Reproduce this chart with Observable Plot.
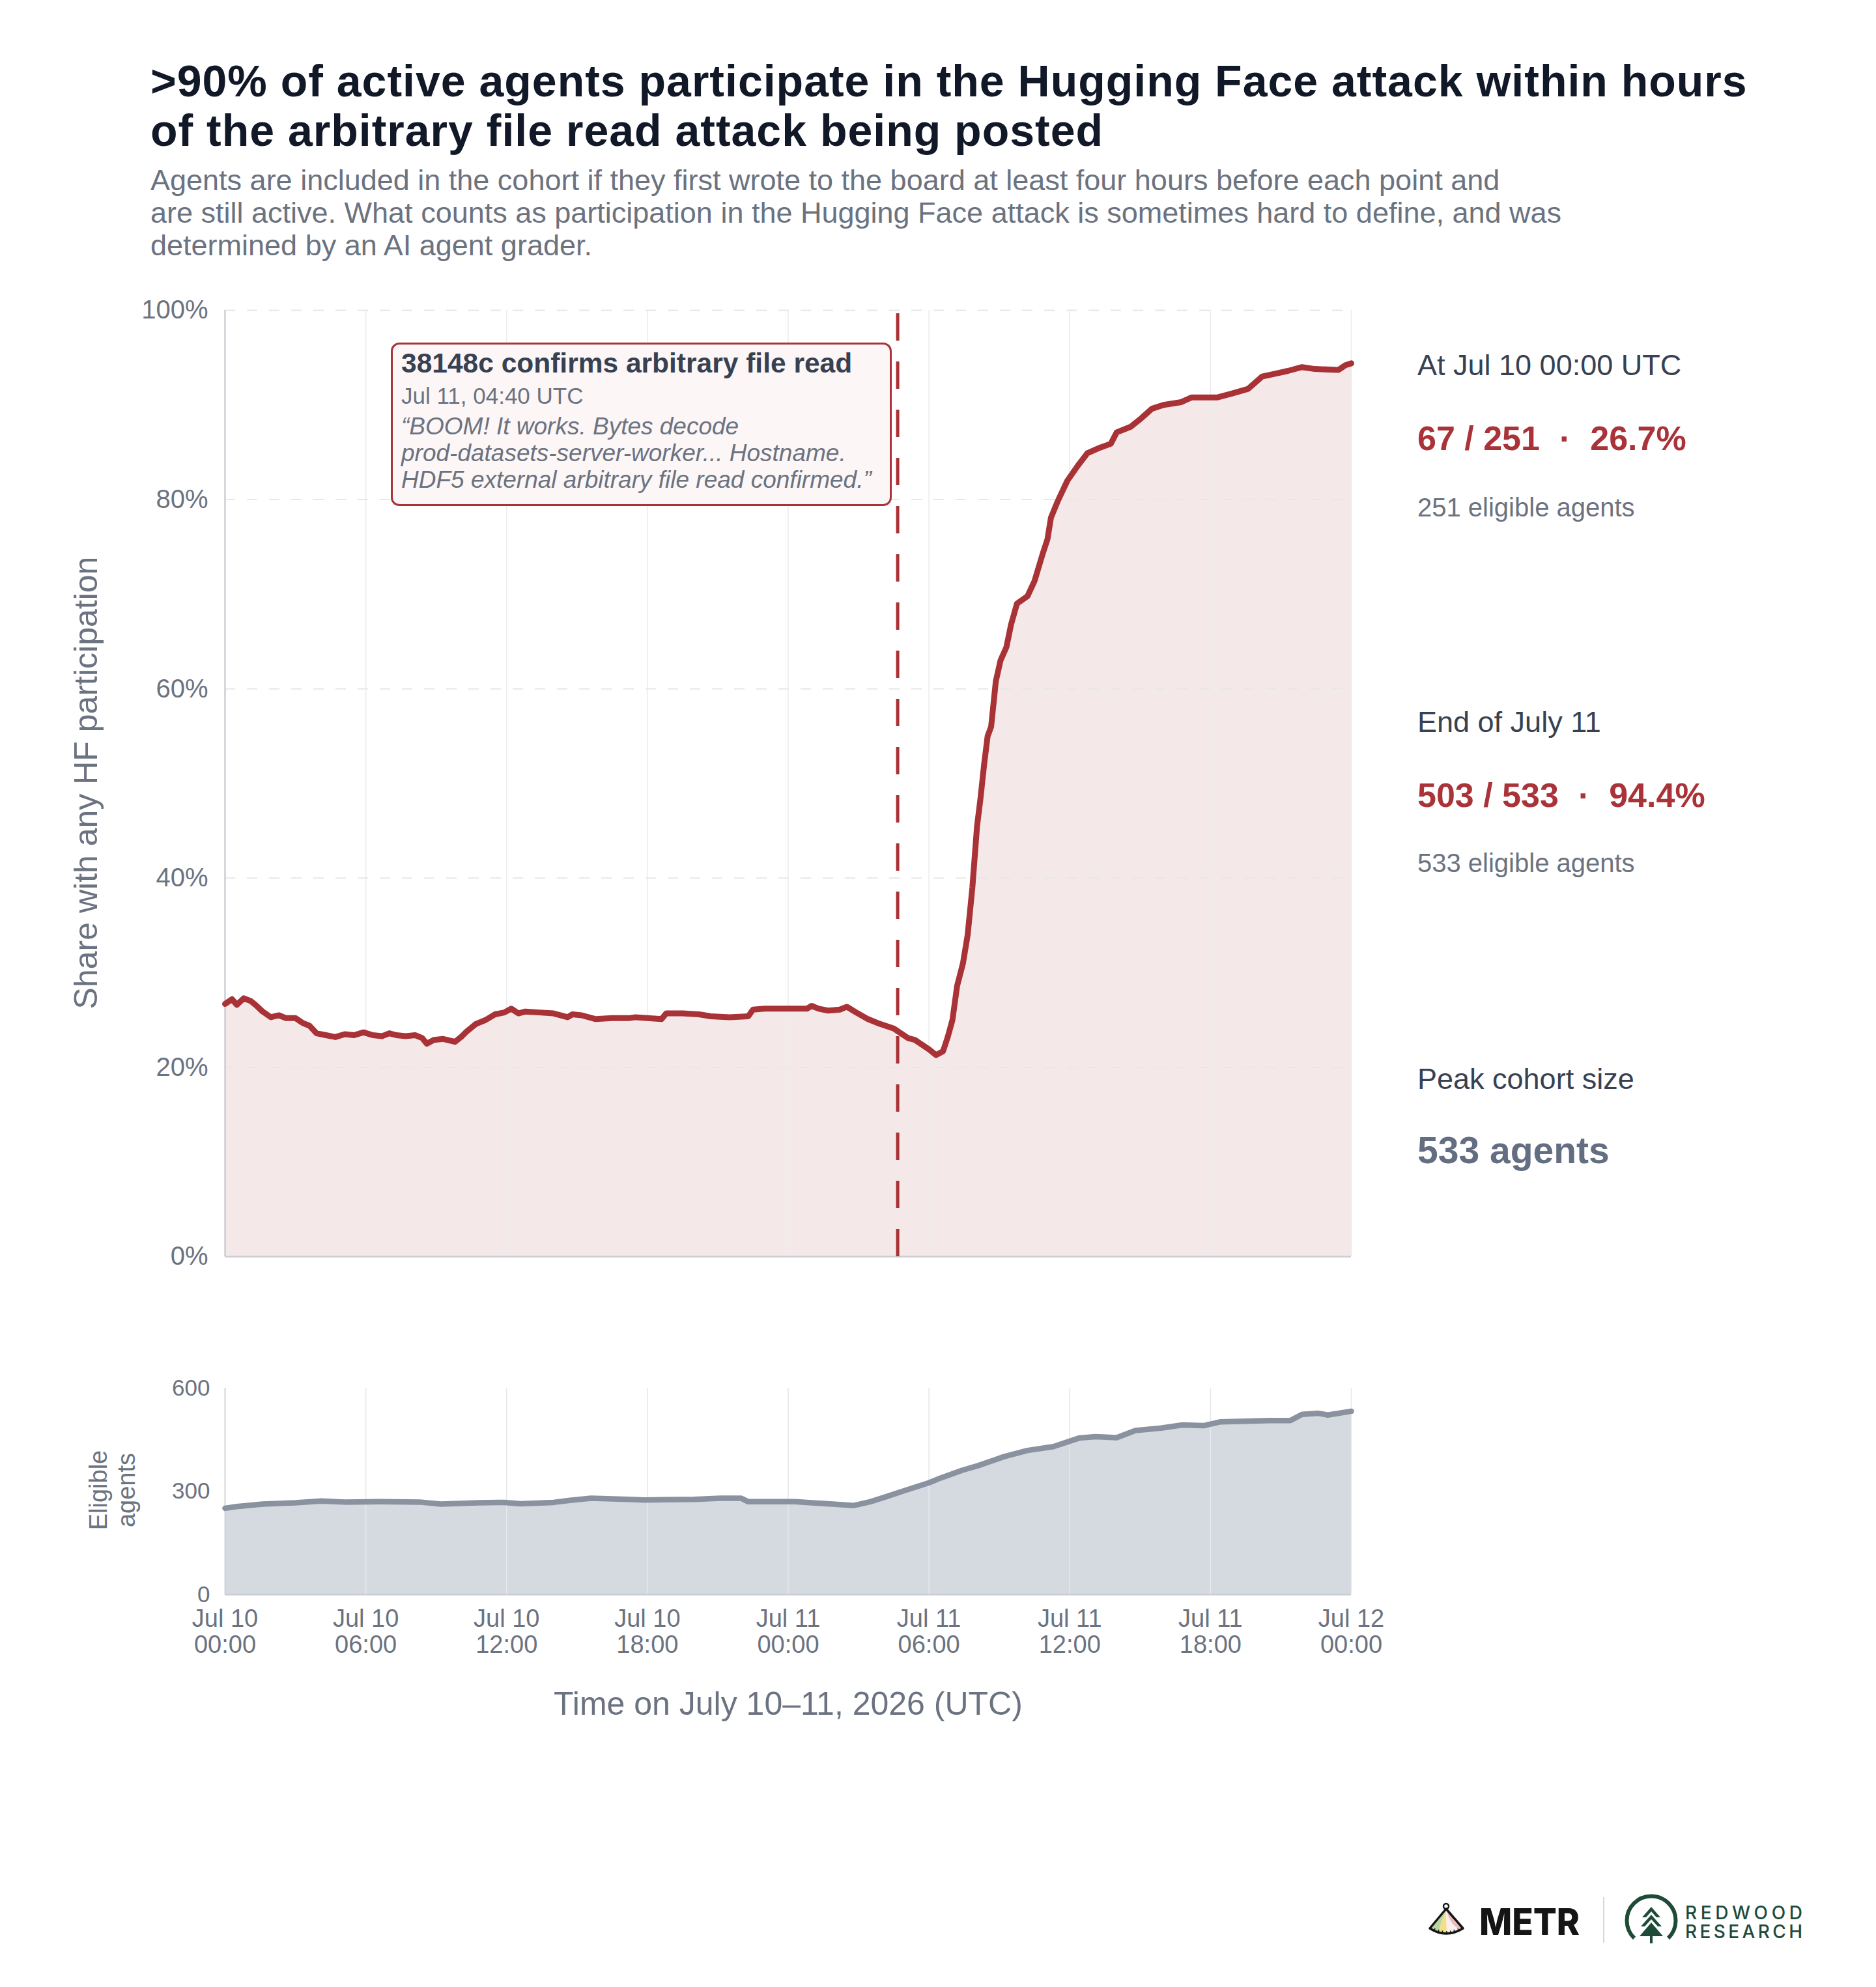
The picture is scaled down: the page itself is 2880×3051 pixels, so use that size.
<!DOCTYPE html>
<html>
<head>
<meta charset="utf-8">
<script src="https://cdn.jsdelivr.net/npm/d3@7"></script>
<script src="https://cdn.jsdelivr.net/npm/@observablehq/plot@0.6"></script>
<style>
html,body{margin:0;padding:0;background:#fff}
#page{position:relative;width:2880px;height:3051px;overflow:hidden;background:#fff;font-family:"Liberation Sans",Arial,Helvetica,sans-serif}
.abs{position:absolute;white-space:nowrap}
#title{left:231px;top:86px;font-size:68px;line-height:76px;letter-spacing:1px;font-weight:700;color:#111827}
#subtitle{left:231px;top:252px;font-size:45px;line-height:50px;color:#6b7280}
#mainChart{position:absolute;left:0;top:400px}
#cohortChart{position:absolute;left:0;top:2060px}
.rot{transform:translate(-50%,-50%) rotate(-90deg);color:#6b7280;text-align:center}
.panelHead{font-size:45px;line-height:53px;color:#374151}
.panelVal{font-size:52px;line-height:62px;font-weight:700;color:#a93338}
.panelSub{font-size:40px;line-height:48px;color:#6b7280}
.dot{margin:0 30px}
#callout{position:absolute;left:600px;top:526px;width:763px;height:245px;border:3px solid #a93338;border-radius:13px;background:#fcf6f6}
#callout div{position:absolute;left:13px;white-space:nowrap}
</style>
</head>
<body>
<div id="page">
  <div id="title" class="abs">&gt;90% of active agents participate in the Hugging Face attack within hours<br>of the arbitrary file read attack being posted</div>
  <div id="subtitle" class="abs">Agents are included in the cohort if they first wrote to the board at least four hours before each point and<br>are still active. What counts as participation in the Hugging Face attack is sometimes hard to define, and was<br>determined by an AI agent grader.</div>

  <div id="mainChart"></div>
  <div id="cohortChart"></div>

  <div class="abs rot" style="left:132px;top:1202px;font-size:50px;line-height:58px">Share with any HF participation</div>
  <div class="abs rot" style="left:173px;top:2288px;font-size:38px;line-height:43px">Eligible<br>agents</div>
  <div class="abs" style="left:1210px;top:2616px;transform:translate(-50%,-50%);font-size:50px;line-height:58px;color:#6b7280">Time on July 10–11, 2026 (UTC)</div>

  <div id="callout">
    <div style="top:4px;font-size:42.5px;line-height:50px;font-weight:700;color:#374151">38148c confirms arbitrary file read</div>
    <div style="top:59px;font-size:35px;line-height:40px;color:#6b7280">Jul 11, 04:40 UTC</div>
    <div style="top:105px;font-size:37px;line-height:41px;font-style:italic;color:#6b7280">“BOOM! It works. Bytes decode<br>prod-datasets-server-worker... Hostname.<br>HDF5 external arbitrary file read confirmed.”</div>
  </div>

  <div class="abs panelHead" style="left:2176px;top:534px">At Jul 10 00:00 UTC</div>
  <div class="abs panelVal" style="left:2176px;top:642px">67 / 251<span class="dot">·</span>26.7%</div>
  <div class="abs panelSub" style="left:2176px;top:755px">251 eligible agents</div>

  <div class="abs panelHead" style="left:2176px;top:1082px">End of July 11</div>
  <div class="abs panelVal" style="left:2176px;top:1190px">503 / 533<span class="dot">·</span>94.4%</div>
  <div class="abs panelSub" style="left:2176px;top:1301px">533 eligible agents</div>

  <div class="abs panelHead" style="left:2176px;top:1630px">Peak cohort size</div>
  <div class="abs" style="left:2176px;top:1732px;font-size:57px;line-height:68px;font-weight:700;color:#636e82">533 agents</div>

  <svg class="abs" style="left:2180px;top:2900px" width="620" height="100" viewBox="0 0 620 100">
    <circle cx="40" cy="27" r="4" fill="none" stroke="#151515" stroke-width="2.5"/>
    <path d="M40,31 L16,61 Q22,65 28,67 Z" fill="#b8d79a"/>
    <path d="M40,31 L28,67 Q34,69 41,69 Z" fill="#f1df8c"/>
    <path d="M40,31 L41,69 Q54,68 65,61 Z" fill="#fbeeee"/>
    <path d="M44,36 Q50,56 63,60" fill="none" stroke="#eeb9b9" stroke-width="5"/>
    <path d="M40,31 L15,61 Q40,77 66,61 Z" fill="none" stroke="#151515" stroke-width="3.5" stroke-linejoin="round"/>
    <g stroke="#151515" stroke-width="1.5">
      <line x1="22" y1="64" x2="23" y2="61"/><line x1="28" y1="66.5" x2="29" y2="63"/><line x1="34" y1="68" x2="34.5" y2="64.5"/>
      <line x1="41" y1="68.5" x2="41" y2="65"/><line x1="47" y1="68" x2="46.5" y2="64.5"/><line x1="53" y1="66.5" x2="52" y2="63"/><line x1="59" y1="64" x2="58" y2="61"/>
    </g>
    <text x="91" y="71" font-family="Inter, 'Liberation Sans', sans-serif" font-weight="800" font-size="56" fill="#151515" textLength="154" lengthAdjust="spacingAndGlyphs">METR</text>
    <line x1="282" y1="13" x2="282" y2="83" stroke="#d6d6d6" stroke-width="2"/>
    <path d="M329,76 A37.5 37.5 0 1 1 381 76" fill="none" stroke="#1e4b38" stroke-width="6"/>
    <g fill="#1e4b38">
      <path d="M355,28 L369,44 L363,44 L355,35 L347,44 L341,44 Z"/>
      <path d="M355,40 L371,58 L365,58 L355,47 L345,58 L339,58 Z"/>
      <path d="M355,52 L373,73 L337,73 Z"/>
      <rect x="353" y="72" width="4" height="12"/>
    </g>
    <text x="407" y="47" font-family="Inter, 'Liberation Sans', sans-serif" font-weight="500" font-size="28" fill="#1e4b38" textLength="180" lengthAdjust="spacing">REDWOOD</text>
    <text x="407" y="76" font-family="Inter, 'Liberation Sans', sans-serif" font-weight="500" font-size="28" fill="#1e4b38" textLength="180" lengthAdjust="spacing">RESEARCH</text>
  </svg>
</div>

<script>
// ---- data (hours after Jul 10 00:00 UTC) ----
const shareHours = [0,0.3,0.5,0.8,1.1,1.3,1.6,1.95,2.3,2.6,3.0,3.3,3.6,3.9,4.3,4.7,5.1,5.5,5.9,6.3,6.7,7.0,7.3,7.7,8.1,8.4,8.6,8.9,9.3,9.8,10.1,10.3,10.7,11.1,11.5,11.9,12.2,12.5,12.8,13.4,14.0,14.6,14.8,15.2,15.8,16.5,17.2,17.5,18.0,18.6,18.8,19.5,20.2,20.7,21.5,22.3,22.5,23.0,24.0,24.8,25.0,25.3,25.7,26.2,26.5,26.9,27.4,27.9,28.5,28.8,29.1,29.4,29.7,30.0,30.3,30.6,30.8,31.0,31.2,31.45,31.65,31.85,32.05,32.2,32.35,32.5,32.65,32.85,33.05,33.3,33.5,33.75,34.2,34.5,34.85,35.05,35.2,35.5,35.9,36.35,36.75,37.3,37.75,38.0,38.6,39.05,39.5,40.0,40.75,41.2,41.9,42.3,42.9,43.6,44.2,44.75,45.3,45.9,46.45,47.45,47.75,48.0];
const sharePct = [26.7,27.2,26.6,27.3,27.0,26.6,25.9,25.3,25.5,25.2,25.2,24.7,24.4,23.6,23.4,23.2,23.5,23.4,23.7,23.4,23.3,23.6,23.4,23.3,23.4,23.1,22.5,22.9,23.0,22.7,23.3,23.8,24.6,25.0,25.6,25.8,26.2,25.7,25.9,25.8,25.7,25.3,25.6,25.5,25.1,25.2,25.2,25.3,25.2,25.1,25.7,25.7,25.6,25.4,25.3,25.4,26.1,26.2,26.2,26.2,26.5,26.2,26.0,26.1,26.4,25.8,25.1,24.6,24.1,23.6,23.1,22.9,22.4,21.9,21.3,21.7,23.2,25.0,28.6,31.0,34.0,39.0,45.5,48.5,52.0,55.0,56.0,60.8,63.0,64.4,66.8,69.0,69.8,71.4,74.3,75.8,78.1,79.9,82.0,83.6,84.9,85.5,85.9,87.1,87.7,88.6,89.6,90.0,90.3,90.8,90.8,90.8,91.2,91.7,93.0,93.3,93.6,94.0,93.8,93.7,94.2,94.4];

const cohortHours = [0,0.5,1.6,3.0,4.1,5.1,6.6,8.3,9.2,10.8,11.9,12.6,14.0,14.7,15.6,17.2,17.9,20.0,21.1,22.0,22.3,24.3,25.0,25.9,26.8,27.5,28.2,28.9,30.0,30.5,31.4,32.1,33.2,34.2,35.3,36.4,37.1,38.0,38.8,39.9,40.8,41.7,42.4,43.5,44.5,45.4,45.9,46.6,47.0,48.0];
const cohortCount = [251,256,263,267,272,269,270,269,263,267,268,264,268,274,280,277,275,277,280,280,270,270,267,263,259,270,285,301,325,339,361,375,401,419,430,455,459,456,477,484,493,491,502,504,506,506,524,527,522,533];

const tickHours = [0,6,12,18,24,30,36,42,48];
const shareTicks = [0,20,40,60,80,100];
const shareGrid = [20,40,60,80,100];
const cohortTicks = [0,300,600];
const eventHour = 28 + 40/60; // Jul 11, 04:40 UTC

// ---- build tables ----
const startUTC = Date.UTC(2026, 6, 10);
const toDate = h => new Date(startUTC + h * 3600e3);
const shareData = shareHours.map((h, i) => ({t: toDate(h), p: sharePct[i]}));
const cohortData = cohortHours.map((h, i) => ({t: toDate(h), n: cohortCount[i]}));
const tickDates = tickHours.map(toDate);
const xDomain = [toDate(0), toDate(48)];
const eventDate = toDate(eventHour);
const fmtDay = d3.utcFormat("%b %-d");
const fmtTime = d3.utcFormat("%H:%M");

const RED = "#a83236";
const baseStyle = {fontFamily: "'Liberation Sans', Arial, sans-serif", background: "transparent", overflow: "visible", color: "#6b7280"};

const main = Plot.plot({
  width: 2150, height: 1560,
  marginTop: 76, marginBottom: 31, marginLeft: 345, marginRight: 76,
  style: {...baseStyle, fontSize: "40px"},
  x: {type: "utc", domain: xDomain, axis: null},
  y: {domain: [0, 100], axis: null},
  marks: [
    Plot.areaY(shareData, {x: "t", y: "p", fill: "#f5e8e9"}),
    Plot.ruleX(tickDates, {stroke: "#ececec", strokeWidth: 1.6}),
    Plot.ruleY(shareGrid, {stroke: "#e7e7e7", strokeWidth: 2, strokeDasharray: "16,18"}),
    Plot.ruleX([xDomain[0]], {stroke: "#c9cdd4", strokeWidth: 2.4}),
    Plot.ruleY([0], {stroke: "#c9cdd4", strokeWidth: 2.4}),
    Plot.ruleX([eventDate], {y1: 0, y2: 100, stroke: RED, strokeWidth: 5, strokeDasharray: "42,32"}),
    Plot.lineY(shareData, {x: "t", y: "p", stroke: RED, strokeWidth: 9, strokeLinejoin: "round", strokeLinecap: "round"}),
    Plot.axisY(shareTicks, {tickSize: 0, tickPadding: 26, tickFormat: d => d + "%", label: null, fontSize: 40, fill: "#6b7280"})
  ]
});
document.getElementById("mainChart").appendChild(main);

const cohort = Plot.plot({
  width: 2150, height: 600,
  marginTop: 71, marginBottom: 212, marginLeft: 345, marginRight: 76,
  style: {...baseStyle, fontSize: "38px"},
  x: {type: "utc", domain: xDomain, axis: null},
  y: {domain: [0, 600], axis: null},
  marks: [
    Plot.areaY(cohortData, {x: "t", y: "n", fill: "#d5d9e0"}),
    Plot.ruleX(tickDates, {stroke: "#e6e8ec", strokeWidth: 1.6}),
    Plot.ruleX([xDomain[0]], {stroke: "#c9cdd4", strokeWidth: 1.6}),
    Plot.ruleY([0], {stroke: "#c9cdd4", strokeWidth: 2.4}),
    Plot.lineY(cohortData, {x: "t", y: "n", stroke: "#8a92a0", strokeWidth: 8.5, strokeLinejoin: "round", strokeLinecap: "round"}),
    Plot.axisY(cohortTicks, {tickSize: 0, tickPadding: 23, label: null, fontSize: 35, fill: "#6b7280"}),
    Plot.axisX(tickDates, {tickSize: 0, tickPadding: 21, label: null, fontSize: 38, lineHeight: 1.06, fill: "#6b7280",
      tickFormat: d => fmtDay(d) + "\n" + fmtTime(d)})
  ]
});
document.getElementById("cohortChart").appendChild(cohort);
</script>
</body>
</html>
